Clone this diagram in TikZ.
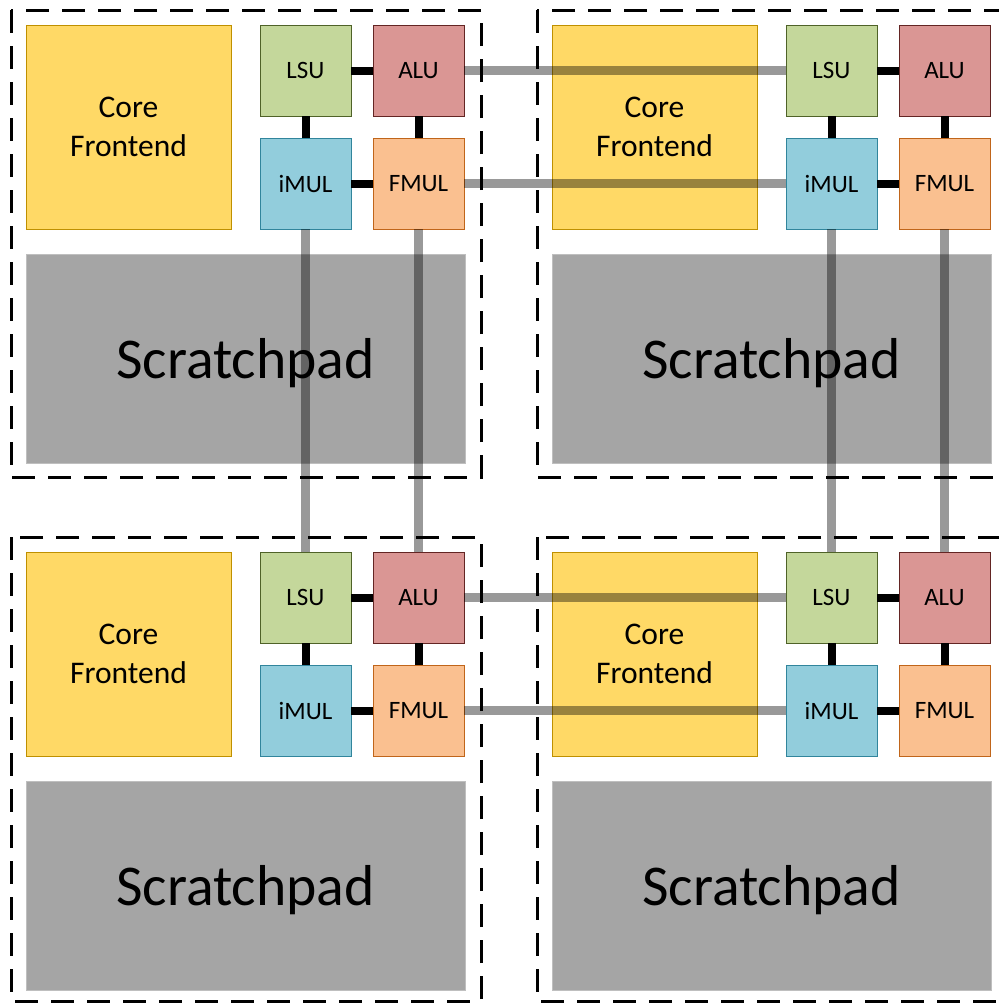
\documentclass[tikz,border=0pt]{standalone}
\usepackage{fontspec}
\setmainfont{Carlito}
\definecolor{cfFill}{HTML}{FFD966}
\definecolor{cfLine}{HTML}{BF9000}
\definecolor{lsuFill}{HTML}{C4D79B}
\definecolor{lsuLine}{HTML}{4F6228}
\definecolor{aluFill}{HTML}{DA9694}
\definecolor{aluLine}{HTML}{632523}
\definecolor{imulFill}{HTML}{92CDDC}
\definecolor{imulLine}{HTML}{31859C}
\definecolor{fmulFill}{HTML}{FAC090}
\definecolor{fmulLine}{HTML}{C0651A}
\definecolor{spFill}{HTML}{A5A5A5}
\definecolor{spLine}{HTML}{BFBFBF}
\tikzset{
  unitbox/.style={draw, line width=0.8pt, minimum width=91pt, minimum height=91pt,
    inner sep=0pt, outer sep=0pt, text depth=0pt, font=\fontsize{25}{30}\selectfont},
  frontbox/.style={draw=cfLine, fill=cfFill, line width=0.8pt, minimum width=205pt,
    minimum height=204pt, inner sep=0pt, align=center, font=\fontsize{31.5}{39}\selectfont},
  padbox/.style={draw=spLine, fill=spFill, line width=0.8pt, minimum width=439pt,
    minimum height=209pt, inner sep=0pt, text depth=0pt, font=\fontsize{57.7}{60}\selectfont},
  tileborder/.style={draw=black, line width=3pt, dash pattern=on 23pt off 13pt},
  localwire/.style={draw=black, line width=8pt},
  meshwire/.style={draw=black, draw opacity=0.4, line width=9pt}
}
\begin{document}
\begin{tikzpicture}[x=1pt, y=-1pt]
  \useasboundingbox (0,0) rectangle (999,1005);
  \clip (0,0) rectangle (999,1005);
  \foreach \i/\dx in {0/0,1/526} {
    \foreach \j/\dy/\h in {0/0/467,1/527/464} {
      \begin{scope}[shift={(\dx,\dy)}]
        \draw[tileborder] (11,10) rectangle (481,10+\h);
        \node[frontbox] (cf\i\j) at (128.5,127) {Core\\Frontend};
        \node[padbox] (sp\i\j) at (245.5,358.5) {Scratchpad};
        \node[unitbox, draw=lsuLine, fill=lsuFill] (lsu\i\j) at (305.5,70.5) {LSU};
        \node[unitbox, draw=aluLine, fill=aluFill] (alu\i\j) at (418.5,70.5) {ALU};
        \node[unitbox, draw=imulLine, fill=imulFill] (imul\i\j) at (305.5,183.5) {iMUL};
        \node[unitbox, draw=fmulLine, fill=fmulFill] (fmul\i\j) at (418.5,183.5) {FMUL};
        \draw[localwire] (lsu\i\j) -- (alu\i\j);
        \draw[localwire] (imul\i\j) -- (fmul\i\j);
        \draw[localwire] (lsu\i\j) -- (imul\i\j);
        \draw[localwire] (alu\i\j) -- (fmul\i\j);
      \end{scope}
    }
  }
  % links between neighbouring tiles
  \foreach \j in {0,1} {
    \draw[meshwire] (alu0\j.east) -- (lsu1\j.west);
    \draw[meshwire] (fmul0\j.east) -- (imul1\j.west);
  }
  \foreach \i in {0,1} {
    \draw[meshwire] (imul\i0.south) -- (lsu\i1.north);
    \draw[meshwire] (fmul\i0.south) -- (alu\i1.north);
  }
\end{tikzpicture}
\end{document}
